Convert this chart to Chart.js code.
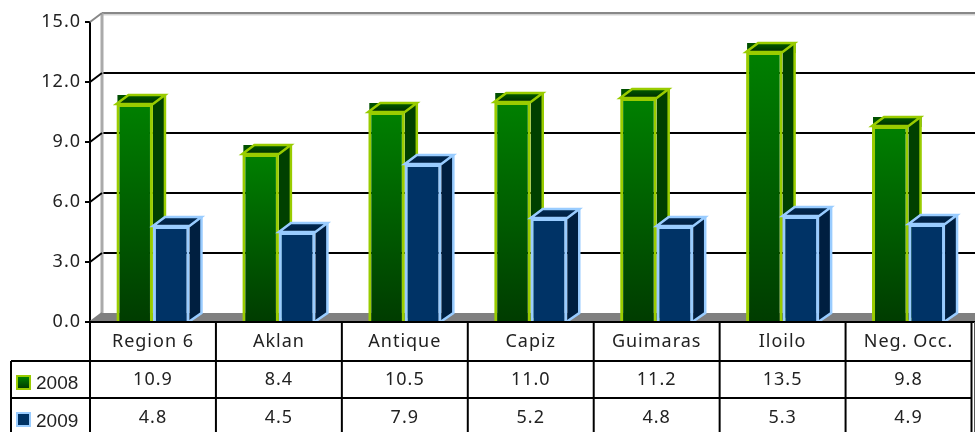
<!DOCTYPE html>
<html>
<head>
<meta charset="utf-8">
<script src="https://cdn.jsdelivr.net/npm/chart.js@4"></script>
<style>
html, body { margin: 0; padding: 0; background: #fff; overflow: hidden; }
canvas { display: block; }
</style>
</head>
<body>
<canvas id="barChart" width="975" height="432"></canvas>
<script>
const categories = ['Region 6', 'Aklan', 'Antique', 'Capiz', 'Guimaras', 'Iloilo', 'Neg. Occ.'];
const values2008 = [10.9, 8.4, 10.5, 11.0, 11.2, 13.5, 9.8];
const values2009 = [4.8, 4.5, 7.9, 5.2, 4.8, 5.3, 4.9];
const yTicks = [0, 3, 6, 9, 12, 15];

const depthX = 12;
const depthY = 9;
const rowLines = [361, 398];
const tableFont = '18px "Noto Sans"';
const barLine = 3;

const looks = [
    { name: '2008', values: values2008, front: ['#008000', '#003c00'], side: '#004000', top: ['#005c00', '#002c00'], corner: '#005000', line: '#99cc00', textY: 380, boxY: 375 },
    { name: '2009', values: values2009, front: ['#003366', '#003366'], side: '#001f40', top: ['#002a55', '#001f40'], corner: null, line: '#99ccff', textY: 418, boxY: 412 }
];

function vGrad(ctx, y0, y1, colors) {
    const g = ctx.createLinearGradient(0, y0, 0, y1);
    g.addColorStop(0, colors[0]);
    g.addColorStop(1, colors[1]);
    return g;
}

function stroke(ctx, pts, color, width, close) {
    ctx.beginPath();
    pts.forEach((p, i) => i ? ctx.lineTo(p[0], p[1]) : ctx.moveTo(p[0], p[1]));
    if (close) ctx.closePath();
    ctx.strokeStyle = color;
    ctx.lineWidth = width;
    ctx.stroke();
}

function fill(ctx, pts, style) {
    ctx.beginPath();
    pts.forEach((p, i) => i ? ctx.lineTo(p[0], p[1]) : ctx.moveTo(p[0], p[1]));
    ctx.closePath();
    ctx.fillStyle = style;
    ctx.fill();
}

// side and top faces of one dataset's bars
function drawDepth(ctx, meta, look) {
    ctx.save();
    meta.data.forEach(bar => {
        const p = bar.getProps(['x', 'y', 'base', 'width'], true);
        const l = p.x - p.width / 2, r = p.x + p.width / 2;
        const t = p.y, b = p.base;
        if (look.corner) {
            ctx.fillStyle = look.corner;
            ctx.fillRect(l + 1, t - depthY, p.width + depthX, depthY + 1);
        }
        fill(ctx, [[r, t], [r + depthX, t - depthY], [r + depthX, b - depthY], [r, b]], look.side);
        fill(ctx, [[l, t], [l + depthX, t - depthY], [r + depthX, t - depthY], [r, t]], vGrad(ctx, t - depthY, t, look.top));
        stroke(ctx, [[l, t], [l + depthX, t - depthY], [r + depthX, t - depthY], [r, t]], look.line, barLine - 0.5, true);
        stroke(ctx, [[r + depthX, t - depthY], [r + depthX, b - depthY], [r - 1, b]], look.line, barLine - 0.5);
    });
    ctx.restore();
}

// walls, floor and gridlines behind the bars, table and axis on top
const box3d = {
    id: 'box3d',
    beforeDraw(chart) {
        chart.ctx.letterSpacing = '1px';
    },
    beforeDatasetsDraw(chart) {
        const ctx = chart.ctx;
        const { left, top, bottom } = chart.chartArea;
        const y = chart.scales.y;
        ctx.save();
        fill(ctx, [[left, bottom], [left + depthX, bottom - depthY], [975, bottom - depthY], [975, bottom]], '#808080');
        yTicks.forEach(t => {
            if (t === 0 || t === 15) return;
            const py = y.getPixelForValue(t);
            stroke(ctx, [[left + depthX, py - depthY], [975, py - depthY]], '#000', 2);
        });
        stroke(ctx, [[left + depthX, top - depthY + 1], [975, top - depthY + 1]], '#d4d4d4', 3);
        stroke(ctx, [[left + depthX, top - depthY], [975, top - depthY]], '#888', 2);
        stroke(ctx, [[left + depthX, top - depthY], [left + depthX, bottom - depthY]], '#aaa', 3);
        ctx.restore();
    },
    beforeDatasetDraw(chart, args) {
        // 2009 goes over 2008, so it is held back until afterDatasetsDraw
        if (args.index === 1) return false;
        drawDepth(chart.ctx, args.meta, looks[args.index]);
    },
    afterDatasetsDraw(chart) {
        const meta = chart.getDatasetMeta(1);
        drawDepth(chart.ctx, meta, looks[1]);
        meta.controller.draw();
    },
    afterDraw(chart) {
        const ctx = chart.ctx;
        const { left, right, top, bottom } = chart.chartArea;
        const x = chart.scales.x;
        const y = chart.scales.y;
        ctx.save();
        // front axis with ticks and slanted ticks to the back wall
        stroke(ctx, [[left, top], [left, 432]], '#000', 2);
        yTicks.forEach(t => {
            const py = y.getPixelForValue(t);
            stroke(ctx, [[left - 5, py], [left, py]], '#000', 2);
            stroke(ctx, [[left, py], [left + depthX, py - depthY]], t === 15 ? '#888' : (t === 0 ? '#808080' : '#000'), 2);
        });
        // table
        stroke(ctx, [[left - 5, bottom], [975, bottom]], '#000', 2);
        rowLines.forEach(ry => stroke(ctx, [[11, ry], [right, ry]], '#000', 2));
        stroke(ctx, [[11, rowLines[0]], [11, 432]], '#000', 2);
        categories.forEach((c, i) => {
            const px = x.getPixelForValue(i) + x.width / categories.length / 2;
            stroke(ctx, [[px, bottom], [px, 432]], '#000', 2);
        });
        stroke(ctx, [[974.5, bottom], [974.5, 432]], '#555', 1);
        ctx.textAlign = 'center';
        ctx.textBaseline = 'middle';
        ctx.fillStyle = '#222';
        looks.forEach(look => {
            ctx.font = tableFont;
            look.values.forEach((v, i) => {
                ctx.fillText(v.toFixed(1), x.getPixelForValue(i), look.textY);
            });
            ctx.fillStyle = look.line;
            ctx.fillRect(16, look.boxY, 15, 15);
            ctx.fillStyle = vGrad(ctx, look.boxY + 2, look.boxY + 13, look.front);
            ctx.fillRect(18, look.boxY + 2, 11, 11);
            ctx.fillStyle = '#222';
            ctx.textAlign = 'left';
            ctx.letterSpacing = '0px';
            ctx.font = '19px "Liberation Sans"';
            ctx.fillText(look.name, 36, look.textY + 4);
            ctx.letterSpacing = '1px';
            ctx.textAlign = 'center';
        });
        ctx.restore();
    }
};

const ctx = document.getElementById('barChart').getContext('2d');
new Chart(ctx, {
    type: 'bar',
    data: {
        labels: categories,
        datasets: looks.map(look => ({
            label: look.name,
            data: look.values,
            backgroundColor(c) {
                const a = c.chart.chartArea;
                if (!a || c.dataIndex === undefined) return look.front[0];
                const top = c.chart.scales.y.getPixelForValue(look.values[c.dataIndex]);
                return vGrad(c.chart.ctx, top, a.bottom, look.front);
            },
            borderColor: look.line,
            borderWidth: barLine,
            borderSkipped: 'bottom'
        }))
    },
    options: {
        responsive: false,
        animation: false,
        events: [],
        layout: { autoPadding: false, padding: { top: 22, right: 3.5 } },
        plugins: { legend: { display: false }, tooltip: { enabled: false } },
        datasets: { bar: { barPercentage: 1, categoryPercentage: 0.58 } },
        scales: {
            x: {
                afterFit(s) { s.height = 110; },
                grid: { display: false },
                border: { display: false },
                ticks: {
                    padding: 1,
                    color: '#222',
                    font: { family: 'Noto Sans', size: 18 },
                    maxRotation: 0,
                    autoSkip: false
                }
            },
            y: {
                min: 0,
                max: 15,
                afterFit(s) { s.width = 90; },
                afterBuildTicks(s) { s.ticks = yTicks.map(v => ({ value: v })); },
                grid: { display: false },
                border: { display: false },
                ticks: {
                    padding: 1,
                    color: '#222',
                    font: { family: 'Noto Sans', size: 18 },
                    callback: v => v.toFixed(1)
                }
            }
        }
    },
    plugins: [box3d]
});
</script>
</body>
</html>
